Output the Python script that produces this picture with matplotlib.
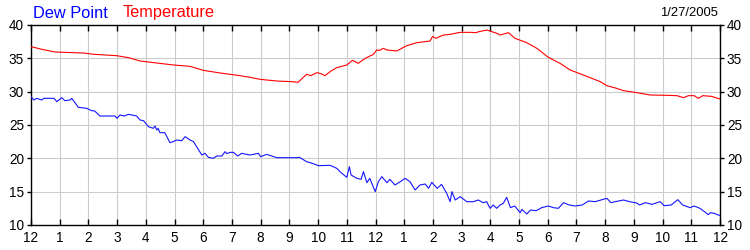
import matplotlib
matplotlib.use('Agg')
import matplotlib.pyplot as plt

# ── data (hours since midnight, degrees) ─────────────────────────────────
temp_h = [0, 0.43, 0.84, 1.82, 2.2, 2.98, 3.4, 3.8, 4.38, 4.96, 5.54, 6.0, 6.59,
          7.28, 7.63, 7.98, 8.56, 9.1, 9.3, 9.45, 9.6, 9.75, 9.95, 10.1, 10.24,
          10.45, 10.65, 11.0, 11.2, 11.4, 11.64, 11.93, 12.04, 12.15, 12.27, 12.4,
          12.74, 13.09, 13.44, 13.9, 13.99, 14.1, 14.37, 14.6, 14.95, 15.3, 15.5,
          15.6, 15.88, 16.05, 16.23, 16.34, 16.63, 16.86, 17.27, 17.62, 18.02,
          18.43, 18.78, 19.24, 19.83, 20.06, 20.4, 20.64, 21.1, 21.57, 22.15,
          22.5, 22.73, 22.9, 23.1, 23.25, 23.4, 23.7, 23.85, 24.0]
temp_v = [36.75, 36.3, 35.95, 35.8, 35.6, 35.4, 35.1, 34.6, 34.3, 34.0, 33.8, 33.2,
          32.8, 32.4, 32.15, 31.85, 31.6, 31.5, 31.4, 32.0, 32.6, 32.4, 32.85, 32.7,
          32.4, 33.1, 33.6, 34.0, 34.7, 34.25, 35.0, 35.6, 36.25, 36.2, 36.5, 36.25,
          36.1, 36.9, 37.35, 37.6, 38.3, 38.0, 38.5, 38.6, 38.9, 38.9, 38.85, 39.0,
          39.25, 39.0, 38.75, 38.5, 38.85, 38.0, 37.35, 36.5, 35.15, 34.25, 33.25,
          32.5, 31.5, 30.9, 30.5, 30.15, 29.85, 29.5, 29.45, 29.4, 29.1, 29.4, 29.4,
          29.0, 29.4, 29.3, 29.1, 28.9]

dew_h = [0, 0.1, 0.2, 0.37, 0.45, 0.8, 0.9, 1.07, 1.18, 1.36, 1.42, 1.65, 1.94,
         2.11, 2.22, 2.4, 2.93, 2.99, 3.1, 3.25, 3.39, 3.68, 3.8, 3.92, 4.09, 4.26,
         4.32, 4.38, 4.43, 4.49, 4.66, 4.84, 4.95, 5.08, 5.25, 5.37, 5.54, 5.66,
         5.95, 6.06, 6.18, 6.35, 6.47, 6.65, 6.76, 6.82, 6.93, 7.05, 7.2, 7.34, 7.5,
         7.63, 7.92, 8.0, 8.21, 8.56, 9.26, 9.35, 9.6, 9.8, 10.01, 10.42, 10.65,
         10.8, 11.0, 11.09, 11.15, 11.35, 11.5, 11.58, 11.7, 11.8, 11.99, 12.1,
         12.22, 12.4, 12.5, 12.68, 12.9, 13.03, 13.2, 13.38, 13.55, 13.73, 13.85,
         13.96, 14.15, 14.3, 14.48, 14.6, 14.66, 14.78, 14.95, 15.18, 15.41, 15.58,
         15.75, 15.87, 15.99, 16.1, 16.22, 16.34, 16.45, 16.57, 16.7, 16.85, 17.04,
         17.1, 17.27, 17.4, 17.6, 17.79, 18.02, 18.2, 18.37, 18.55, 18.75, 18.95,
         19.2, 19.42, 19.65, 19.85, 20.06, 20.2, 20.35, 20.64, 20.85, 21.1, 21.2,
         21.4, 21.63, 21.92, 22.05, 22.3, 22.53, 22.7, 22.96, 23.1, 23.3, 23.6,
         23.66, 23.8, 24.0]
dew_v = [29.25, 28.75, 29.0, 28.75, 29.0, 29.0, 28.5, 29.1, 28.65, 28.75, 29.0,
         27.65, 27.5, 27.15, 27.1, 26.35, 26.35, 26.0, 26.5, 26.35, 26.6, 26.35,
         25.75, 25.65, 24.75, 24.5, 24.85, 24.25, 24.5, 23.85, 23.85, 22.35, 22.5,
         22.75, 22.65, 23.25, 22.75, 22.5, 20.5, 20.75, 20.15, 20.0, 20.35, 20.35,
         21.0, 20.7, 20.9, 20.9, 20.35, 20.75, 20.6, 20.5, 20.75, 20.25, 20.6, 20.1,
         20.1, 20.15, 19.5, 19.25, 18.9, 18.95, 18.5, 17.85, 17.15, 18.75, 17.5,
         17.0, 16.85, 18.0, 16.35, 17.0, 15.0, 16.5, 17.25, 16.35, 16.85, 16.0,
         16.6, 17.0, 16.5, 15.25, 16.0, 16.15, 15.5, 16.4, 15.5, 16.1, 14.75, 13.5,
         15.0, 13.75, 14.25, 13.5, 13.5, 13.75, 13.35, 13.5, 12.5, 13.0, 12.5, 13.0,
         13.25, 14.15, 12.6, 12.85, 11.85, 12.35, 11.65, 12.25, 12.15, 12.6, 12.85,
         12.6, 12.5, 13.35, 13.0, 12.85, 13.0, 13.6, 13.5, 13.75, 14.0, 13.35, 13.5,
         13.75, 13.5, 13.3, 13.0, 13.35, 13.1, 13.5, 12.9, 13.0, 13.8, 13.0, 12.6,
         12.85, 12.5, 11.55, 11.85, 11.75, 11.4]

x_ticks = list(range(25))
x_labels = ['12'] + [str(h) for h in range(1, 12)] + ['12'] + \
           [str(h) for h in range(1, 12)] + ['12']
y_ticks = [10, 15, 20, 25, 30, 35, 40]
date_str = '1/27/2005'

plt.rcParams['font.family'] = ['Liberation Sans', 'DejaVu Sans']

fig = plt.figure(figsize=(7.5, 2.5), dpi=100)
fig.patch.set_facecolor('white')
ax = fig.add_axes([31 / 750, 25 / 250, 689 / 750, 200 / 250])

ax.plot(dew_h, dew_v, color='#1515FF', lw=0.8, zorder=3)
ax.plot(temp_h, temp_v, color='#FF0000', lw=0.8, zorder=3)

ax.set_xlim(0, 24)
ax.set_ylim(10, 40)
ax.set_xticks(x_ticks)
ax.set_xticklabels(x_labels)
ax.set_yticks(y_ticks)
ax.grid(True, color='#CCCCCC', lw=0.8, zorder=0)
ax.set_axisbelow(True)

for sp in ax.spines.values():
    sp.set_color('black')
    sp.set_linewidth(1.0)

ax.tick_params(axis='x', which='both', direction='in', length=4, width=1,
               top=True, bottom=True, labelsize=9.8, pad=4)
ax.tick_params(axis='y', which='both', direction='out', length=3, width=1,
               left=True, right=True, labelleft=True, labelright=True,
               labelsize=9.8, pad=2)

fig.text(33 / 750, 1 - 13 / 250, 'Dew Point', color='#0000FF',
         fontsize=11.8, ha='left', va='center')
fig.text(123 / 750, 1 - 13 / 250, 'Temperature', color='#FF0000',
         fontsize=11.8, ha='left', va='center')
fig.text(718 / 750, 1 - 13 / 250, date_str, color='black',
         fontsize=9.4, ha='right', va='center')

fig.savefig('out.png', dpi=100, facecolor='white')
